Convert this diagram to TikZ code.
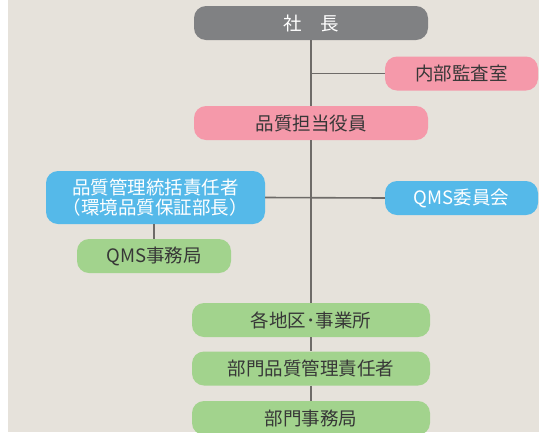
\documentclass[tikz,border=0pt]{standalone}
\usepackage{fontspec}
\setmainfont{Noto Sans CJK JP}
\definecolor{bgc}{RGB}{230,226,219}
\definecolor{grayc}{RGB}{128,129,131}
\definecolor{pinkc}{RGB}{245,153,170}
\definecolor{bluec}{RGB}{85,185,233}
\definecolor{greenc}{RGB}{162,211,141}
\definecolor{linec}{RGB}{110,107,104}
\definecolor{textc}{RGB}{55,55,55}
\tikzset{
  box/.style={rounded corners=12pt, inner sep=0pt, align=center,
    font=\fontsize{18.5}{20.5}\selectfont, text=textc},
  graybox/.style={box, fill=grayc, text=white},
  pinkbox/.style={box, fill=pinkc},
  bluebox/.style={box, fill=bluec, text=white},
  greenbox/.style={box, fill=greenc},
  conn/.style={draw=linec, line width=1.6pt}
}
\begin{document}
\begin{tikzpicture}[x=1pt,y=-1pt]
\clip (0,0) rectangle (539,432);
\useasboundingbox (0,0) rectangle (539,432);
\fill[white] (0,0) rectangle (539,432);
\fill[bgc] (8,0) rectangle (539,432);

\node[graybox, minimum width=234pt, minimum height=34pt] (shacho) at (311,23) {社　長};
\node[pinkbox, minimum width=153pt, minimum height=34pt] (naibu) at (461.5,73.5) {内部監査室};
\node[pinkbox, minimum width=234pt, minimum height=34pt] (yakuin) at (311,123) {品質担当役員};
\node[bluebox, minimum width=219pt, minimum height=53pt] (kanri) at (155.5,197.5) {品質管理統括責任者\\（環境品質保証部長）};
\node[bluebox, minimum width=153pt, minimum height=34pt] (iinkai) at (461.5,198) {QMS委員会};
\node[greenbox, minimum width=154pt, minimum height=34pt] (jimu) at (154,256) {QMS事務局};
\node[greenbox, minimum width=238pt, minimum height=34pt] (chiku) at (311,320) {各地区･事業所};
\node[greenbox, minimum width=238pt, minimum height=34pt] (bumon) at (311,368.5) {部門品質管理責任者};
\node[greenbox, minimum width=238pt, minimum height=34pt] (bjimu) at (311,418) {部門事務局};

\draw[conn] (shacho.south) -- (yakuin.north);
\draw[conn] (naibu.west -| shacho.south) -- (naibu.west);
\draw[conn] (yakuin.south) -- (chiku.north);
\draw[conn] (kanri.east) -- (iinkai.west);
\draw[conn] (kanri.south -| jimu.north) -- (jimu.north);
\draw[conn] (chiku.south) -- (bumon.north);
\draw[conn] (bumon.south) -- (bjimu.north);
\end{tikzpicture}
\end{document}
